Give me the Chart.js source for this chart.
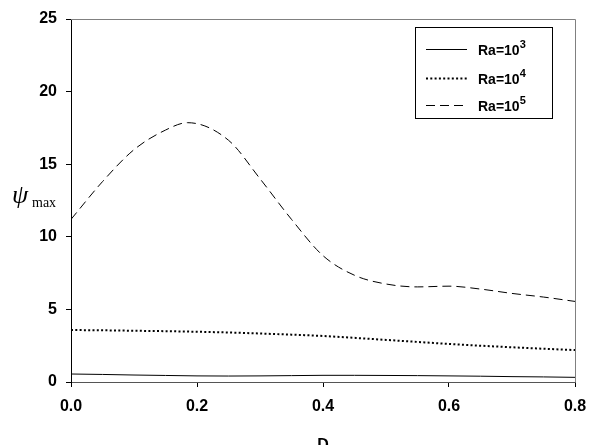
<!DOCTYPE html>
<html>
<head>
<meta charset="utf-8">
<script src="https://cdn.jsdelivr.net/npm/chart.js@4"></script>
<style>
  html, body { margin: 0; padding: 0; background: #fff; }
  #wrap { width: 590px; height: 445px; position: relative; }
</style>
</head>
<body>
<div id="wrap"><canvas id="psiChart" width="590" height="445"></canvas></div>
<script>
// Dati
const D = [0, 0.05, 0.1, 0.15, 0.2, 0.25, 0.3, 0.35, 0.4, 0.45, 0.5, 0.55, 0.6, 0.65, 0.7, 0.75, 0.8];
const ra3 = [0.55, 0.52, 0.48, 0.45, 0.42, 0.41, 0.42, 0.44, 0.46, 0.46, 0.45, 0.44, 0.42, 0.40, 0.37, 0.35, 0.32];
const ra4 = [3.58, 3.56, 3.53, 3.50, 3.46, 3.41, 3.34, 3.26, 3.17, 3.04, 2.90, 2.76, 2.62, 2.50, 2.39, 2.29, 2.20];
const D5 = [0, 0.05, 0.1, 0.15, 0.185, 0.25, 0.3, 0.35, 0.4, 0.45, 0.5, 0.55, 0.6, 0.65, 0.7, 0.75, 0.8];
const ra5 = [11.2, 13.8, 16.0, 17.35, 17.86, 16.65, 14.0, 11.2, 8.7, 7.35, 6.75, 6.55, 6.6, 6.4, 6.1, 5.85, 5.55];

const xTicks = [0, 0.2, 0.4, 0.6, 0.8];
const yTicks = [0, 5, 10, 15, 20, 25];
const legendExp = ['3', '4', '5'];

function pts(xs, ys) {
  return xs.map((x, i) => ({ x: x, y: ys[i] }));
}

// Cornice grigia, legenda e titoli degli assi
const extras = {
  id: 'extras',
  afterDraw(chart) {
    const ctx = chart.ctx;
    const a = chart.chartArea;
    ctx.save();
    // cornice in alto e a destra
    ctx.strokeStyle = '#808080';
    ctx.lineWidth = 1;
    ctx.beginPath();
    ctx.moveTo(a.left, a.top + 0.5);
    ctx.lineTo(a.right + 0.5, a.top + 0.5);
    ctx.lineTo(a.right + 0.5, a.bottom);
    ctx.stroke();

    // legenda
    const bx = 415, by = 27, bw = 137, bh = 91;
    ctx.strokeStyle = '#000';
    ctx.strokeRect(bx + 0.5, by + 0.5, bw, bh);
    const rows = [49, 78, 105];
    chart.data.datasets.forEach((ds, i) => {
      const y = rows[i];
      ctx.beginPath();
      ctx.lineWidth = ds.borderWidth;
      ctx.setLineDash(ds.borderDash || []);
      ctx.moveTo(426, y + 0.5);
      ctx.lineTo(467, y + 0.5);
      ctx.stroke();
      ctx.setLineDash([]);
      ctx.fillStyle = '#000';
      ctx.textBaseline = 'alphabetic';
      ctx.textAlign = 'left';
      ctx.font = 'bold 14px "Liberation Sans", Arial, sans-serif';
      ctx.fillText('Ra=10', 478, y + 6);
      const w = ctx.measureText('Ra=10').width;
      ctx.font = 'bold 11px "Liberation Sans", Arial, sans-serif';
      ctx.fillText(legendExp[i], 478 + w, y - 1);
    });

    // titolo asse y: psi_max
    ctx.fillStyle = '#000';
    ctx.textAlign = 'left';
    ctx.textBaseline = 'alphabetic';
    ctx.font = 'italic 26px "Liberation Serif", "Times New Roman", serif';
    ctx.fillText('\u03C8', 12, 203);
    ctx.font = '14px "Liberation Serif", "Times New Roman", serif';
    ctx.fillText('max', 32, 207);

    // titolo asse x
    ctx.font = 'bold 16px "Liberation Sans", Arial, sans-serif';
    ctx.textAlign = 'center';
    ctx.textBaseline = 'top';
    ctx.fillText('D', (a.left + a.right) / 2, 438);
    ctx.restore();
  }
};

const tickFont = { family: '"Liberation Sans", Arial, sans-serif', size: 16, weight: 'bold' };

const config = {
  type: 'line',
  data: {
    datasets: [
      {
        label: 'Ra=10^3',
        data: pts(D, ra3),
        borderColor: '#000',
        borderWidth: 1,
        pointRadius: 0,
        cubicInterpolationMode: 'monotone'
      },
      {
        label: 'Ra=10^4',
        data: pts(D, ra4),
        borderColor: '#000',
        borderWidth: 2,
        borderDash: [2, 2.3],
        pointRadius: 0,
        cubicInterpolationMode: 'monotone'
      },
      {
        label: 'Ra=10^5',
        data: pts(D5, ra5),
        borderColor: '#000',
        borderWidth: 1,
        borderDash: [9, 5],
        pointRadius: 0,
        cubicInterpolationMode: 'monotone'
      }
    ]
  },
  options: {
    responsive: false,
    animation: false,
    layout: { padding: { left: 0, right: 15, top: 19, bottom: 0 } },
    plugins: {
      legend: { display: false },
      tooltip: { enabled: false }
    },
    scales: {
      x: {
        type: 'linear',
        min: 0,
        max: 0.8,
        afterBuildTicks: s => { s.ticks = xTicks.map(v => ({ value: v })); },
        afterFit: s => { s.height = 63; s.paddingLeft = 0; s.paddingRight = 0; },
        ticks: {
          color: '#000',
          font: tickFont,
          padding: 10,
          maxRotation: 0,
          callback: v => v.toFixed(1)
        },
        grid: { display: true, drawOnChartArea: false, drawTicks: true, tickLength: 5, color: '#000' },
        border: { display: true, color: '#555', width: 1 }
      },
      y: {
        min: 0,
        max: 25,
        afterBuildTicks: s => { s.ticks = yTicks.map(v => ({ value: v })); },
        afterFit: s => { s.width = 71; s.paddingTop = 0; s.paddingBottom = 0; },
        ticks: {
          color: '#000',
          font: tickFont,
          padding: 9,
          callback: v => String(v)
        },
        grid: { display: true, drawOnChartArea: false, drawTicks: true, tickLength: 5, color: '#000' },
        border: { display: true, color: '#000', width: 1 }
      }
    }
  },
  plugins: [extras]
};

const psiChart = new Chart(document.getElementById('psiChart'), config);
</script>
</body>
</html>
